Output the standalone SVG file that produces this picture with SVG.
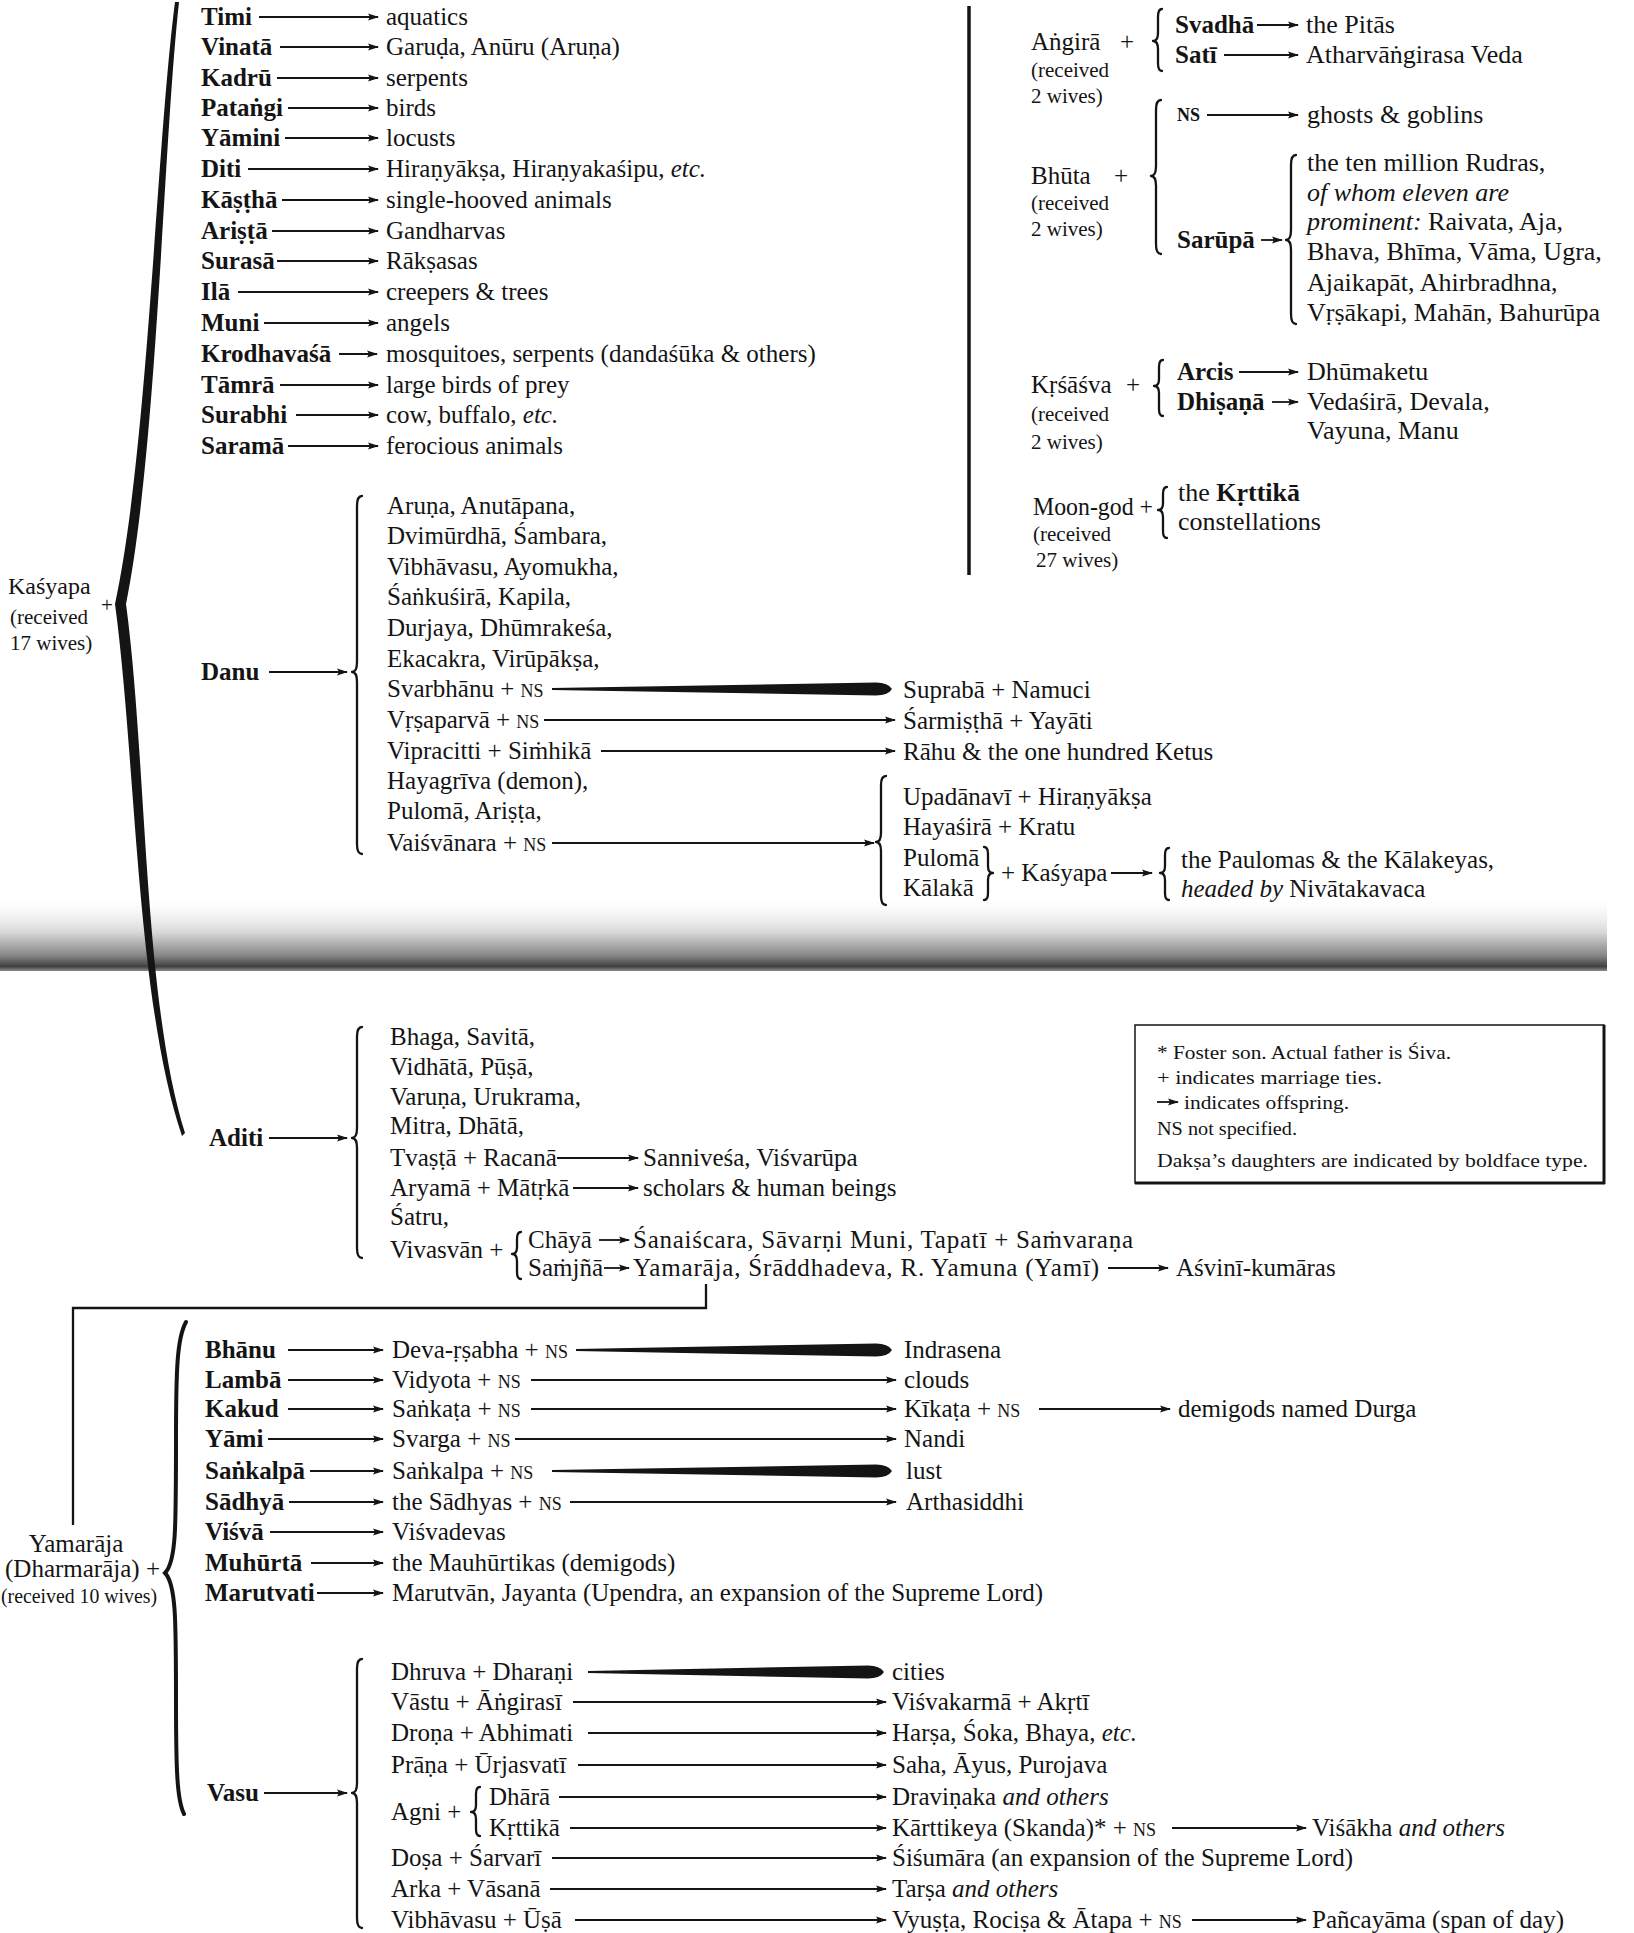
<svg xmlns="http://www.w3.org/2000/svg" width="1634" height="1933" viewBox="0 0 1634 1933">
<style>
.t{font-family:"Liberation Serif","DejaVu Serif",serif;font-size:25px;fill:#141414}
.b{font-weight:bold}
.i{font-style:italic}
.sm{font-size:21px}
.ns{font-size:18px}
.lg{font-size:19px}
.tr{font-size:26px}
.c{stroke:#141414;stroke-width:1.8;fill:none}
.a{marker-end:url(#ah)}
.br{stroke:#141414;stroke-width:2.3;fill:none;stroke-linecap:round;stroke-linejoin:round}
.tp{fill:#141414}
</style>
<defs>
<marker id="ah" markerUnits="userSpaceOnUse" markerWidth="11" markerHeight="8" refX="10" refY="4" orient="auto" viewBox="0 0 11 8"><path d="M0,0.5 L11,4 L0,7.5 L2,4 Z" fill="#141414"/></marker>
<linearGradient id="band" x1="0" y1="0" x2="0" y2="1">
<stop offset="0" stop-color="#ffffff" stop-opacity="0"/>
<stop offset="0.5" stop-color="#d6d6d6"/>
<stop offset="0.8" stop-color="#858585"/>
<stop offset="0.94" stop-color="#404040"/>
<stop offset="1" stop-color="#8a8a8a"/>
</linearGradient>
</defs>
<rect x="0" y="0" width="1634" height="1933" fill="#ffffff"/>
<rect id="fold-band" x="0" y="895" width="1607" height="76" fill="url(#band)"/>

<g id="connectors">
<path class="tp" d="M179,2 C163,150 157,450 126,604 C147,760 143,1000 185,1133 L182,1136 C136,1000 136,760 115,604 C148,450 156,150 175,2 Z"/>
<line class="c a" x1="259" y1="17" x2="378" y2="17"/>
<line class="c a" x1="280" y1="47" x2="378" y2="47"/>
<line class="c a" x1="277" y1="78" x2="378" y2="78"/>
<line class="c a" x1="288" y1="108" x2="378" y2="108"/>
<line class="c a" x1="285" y1="138" x2="378" y2="138"/>
<line class="c a" x1="248" y1="169" x2="378" y2="169"/>
<line class="c a" x1="282" y1="200" x2="378" y2="200"/>
<line class="c a" x1="272" y1="231" x2="378" y2="231"/>
<line class="c a" x1="277" y1="261" x2="378" y2="261"/>
<line class="c a" x1="238" y1="292" x2="378" y2="292"/>
<line class="c a" x1="264" y1="323" x2="378" y2="323"/>
<line class="c a" x1="339" y1="354" x2="377" y2="354"/>
<line class="c a" x1="280" y1="385" x2="378" y2="385"/>
<line class="c a" x1="296" y1="415" x2="378" y2="415"/>
<line class="c a" x1="288" y1="446" x2="378" y2="446"/>
<line x1="969" y1="6" x2="969" y2="575" stroke="#141414" stroke-width="3.5"/>
<path class="br" d="M1162,9 Q1158,9 1158,17 L1158,33 Q1158,41 1153,41 Q1158,41 1158,49 L1158,63 Q1158,71 1162,71"/>
<path class="br" d="M1161,100 Q1156,100 1156,110 L1156,166 Q1156,176 1151,176 Q1156,176 1156,186 L1156,244 Q1156,254 1161,254"/>
<path class="br" d="M1296,155 Q1291,155 1291,165 L1291,230 Q1291,240 1286,240 Q1291,240 1291,250 L1291,314 Q1291,324 1296,324"/>
<path class="br" d="M1163,360 Q1159,360 1159,367 L1159,379 Q1159,386 1154,386 Q1159,386 1159,393 L1159,409 Q1159,416 1163,416"/>
<path class="br" d="M1167,487 Q1163,487 1163,494 L1163,503 Q1163,510 1158,510 Q1163,510 1163,517 L1163,531 Q1163,538 1167,538"/>
<line class="c a" x1="1257" y1="25" x2="1298" y2="25"/>
<line class="c a" x1="1224" y1="55" x2="1298" y2="55"/>
<line class="c a" x1="1207" y1="115" x2="1298" y2="115"/>
<line class="c a" x1="1261" y1="240" x2="1282" y2="240"/>
<line class="c a" x1="1239" y1="372" x2="1298" y2="372"/>
<line class="c a" x1="1272" y1="402" x2="1298" y2="402"/>
<line class="c a" x1="269" y1="672" x2="347" y2="672"/>
<path class="br" d="M362,496 Q357,496 357,506 L357,662 Q357,672 352,672 Q357,672 357,682 L357,844 Q357,854 362,854"/>
<path class="tp" d="M552,688 L876,682.5 Q888,682.5 892,689 Q888,695.5 876,695.5 L552,690 Z"/>
<line class="c a" x1="544" y1="720" x2="895" y2="720"/>
<line class="c a" x1="601" y1="751" x2="895" y2="751"/>
<line class="c a" x1="552" y1="843" x2="874" y2="843"/>
<path class="br" d="M886,776 Q881,776 881,785 L881,833 Q881,842 876,842 Q881,842 881,851 L881,896 Q881,905 886,905"/>
<path class="br" d="M984,847 Q988,847 988,854 L988,866 Q988,873 993,873 Q988,873 988,880 L988,893 Q988,900 984,900"/>
<line class="c a" x1="1111" y1="873" x2="1152" y2="873"/>
<path class="br" d="M1169,848 Q1165,848 1165,855 L1165,866 Q1165,873 1160,873 Q1165,873 1165,880 L1165,893 Q1165,900 1169,900"/>
<line class="c a" x1="269" y1="1138" x2="347" y2="1138"/>
<path class="br" d="M362,1027 Q357,1027 357,1037 L357,1128 Q357,1138 352,1138 Q357,1138 357,1148 L357,1248 Q357,1258 362,1258"/>
<line class="c a" x1="557" y1="1158" x2="638" y2="1158"/>
<line class="c a" x1="573" y1="1188" x2="638" y2="1188"/>
<path class="br" d="M521,1232 Q517,1232 517,1239 L517,1247 Q517,1254 512,1254 Q517,1254 517,1261 L517,1272 Q517,1279 521,1279"/>
<line class="c a" x1="599" y1="1240" x2="629" y2="1240"/>
<line class="c a" x1="604" y1="1268" x2="629" y2="1268"/>
<line class="c a" x1="1108" y1="1268" x2="1168" y2="1268"/>
<polyline points="706,1284 706,1308 73,1308 73,1525" stroke="#141414" stroke-width="2.3" fill="none"/>
<path d="M186,1322 C177,1338 176,1370 176,1440 C176,1530 176,1562 165,1573 C176,1584 176,1620 176,1700 C176,1770 177,1800 184,1814" stroke="#141414" stroke-width="4" fill="none" stroke-linecap="round"/>
<line class="c a" x1="288" y1="1350" x2="383" y2="1350"/>
<line class="c a" x1="288" y1="1380" x2="383" y2="1380"/>
<line class="c a" x1="288" y1="1409" x2="383" y2="1409"/>
<line class="c a" x1="268" y1="1439" x2="383" y2="1439"/>
<line class="c a" x1="310" y1="1471" x2="383" y2="1471"/>
<line class="c a" x1="289" y1="1502" x2="383" y2="1502"/>
<line class="c a" x1="270" y1="1532" x2="383" y2="1532"/>
<line class="c a" x1="311" y1="1563" x2="383" y2="1563"/>
<line class="c a" x1="317" y1="1593" x2="383" y2="1593"/>
<path class="tp" d="M576,1349 L876,1343.5 Q888,1343.5 892,1350 Q888,1356.5 876,1356.5 L576,1351 Z"/>
<line class="c a" x1="531" y1="1380" x2="896" y2="1380"/>
<line class="c a" x1="531" y1="1409" x2="896" y2="1409"/>
<line class="c a" x1="1039" y1="1409" x2="1170" y2="1409"/>
<line class="c a" x1="515" y1="1439" x2="896" y2="1439"/>
<path class="tp" d="M552,1470 L876,1464.5 Q888,1464.5 892,1471 Q888,1477.5 876,1477.5 L552,1472 Z"/>
<line class="c a" x1="570" y1="1502" x2="896" y2="1502"/>
<line class="c a" x1="264" y1="1793" x2="347" y2="1793"/>
<path class="br" d="M362,1659 Q357,1659 357,1669 L357,1783 Q357,1793 352,1793 Q357,1793 357,1803 L357,1918 Q357,1928 362,1928"/>
<path class="tp" d="M588,1671 L868,1665.5 Q880,1665.5 884,1672 Q880,1678.5 868,1678.5 L588,1673 Z"/>
<line class="c a" x1="573" y1="1702" x2="886" y2="1702"/>
<line class="c a" x1="588" y1="1733" x2="886" y2="1733"/>
<line class="c a" x1="578" y1="1765" x2="886" y2="1765"/>
<path class="br" d="M480,1787 Q476,1787 476,1794 L476,1805 Q476,1812 471,1812 Q476,1812 476,1819 L476,1829 Q476,1836 480,1836"/>
<line class="c a" x1="559" y1="1797" x2="886" y2="1797"/>
<line class="c a" x1="570" y1="1828" x2="886" y2="1828"/>
<line class="c a" x1="1172" y1="1828" x2="1306" y2="1828"/>
<line class="c a" x1="552" y1="1858" x2="886" y2="1858"/>
<line class="c a" x1="550" y1="1889" x2="886" y2="1889"/>
<line class="c a" x1="575" y1="1920" x2="886" y2="1920"/>
<line class="c a" x1="1192" y1="1920" x2="1306" y2="1920"/>
</g>

<g id="n-kasyapa" class="t sm"><text x="8" y="594" font-size="24">Kaśyapa</text><text x="10" y="624">(received</text><text x="10" y="650">17 wives)</text><text x="101" y="612">+</text></g>
<g id="n-timi" class="t b"><text x="201" y="25">Timi</text></g>
<g id="n-vinata" class="t b"><text x="201" y="55">Vinatā</text></g>
<g id="n-kadru" class="t b"><text x="201" y="86">Kadrū</text></g>
<g id="n-patangi" class="t b"><text x="201" y="116">Pataṅgi</text></g>
<g id="n-yamini" class="t b"><text x="201" y="146">Yāmini</text></g>
<g id="n-diti" class="t b"><text x="201" y="177">Diti</text></g>
<g id="n-kastha" class="t b"><text x="201" y="208">Kāṣṭhā</text></g>
<g id="n-arista" class="t b"><text x="201" y="239">Ariṣṭā</text></g>
<g id="n-surasa" class="t b"><text x="201" y="269">Surasā</text></g>
<g id="n-ila" class="t b"><text x="201" y="300">Ilā</text></g>
<g id="n-muni" class="t b"><text x="201" y="331">Muni</text></g>
<g id="n-krodhavasa" class="t b"><text x="201" y="362">Krodhavaśā</text></g>
<g id="n-tamra" class="t b"><text x="201" y="393">Tāmrā</text></g>
<g id="n-surabhi" class="t b"><text x="201" y="423">Surabhi</text></g>
<g id="n-sarama" class="t b"><text x="201" y="454">Saramā</text></g>
<g id="r-aquatics" class="t"><text x="386" y="25">aquatics</text></g>
<g id="r-garuda" class="t"><text x="386" y="55">Garuḍa, Anūru (Aruṇa)</text></g>
<g id="r-serpents" class="t"><text x="386" y="86">serpents</text></g>
<g id="r-birds" class="t"><text x="386" y="116">birds</text></g>
<g id="r-locusts" class="t"><text x="386" y="146">locusts</text></g>
<g id="r-hiranyaksa" class="t"><text x="386" y="177">Hiraṇyākṣa, Hiraṇyakaśipu, <tspan class="i">etc.</tspan></text></g>
<g id="r-hooved" class="t"><text x="386" y="208">single-hooved animals</text></g>
<g id="r-gandharvas" class="t"><text x="386" y="239">Gandharvas</text></g>
<g id="r-raksasas" class="t"><text x="386" y="269">Rākṣasas</text></g>
<g id="r-creepers" class="t"><text x="386" y="300">creepers &amp; trees</text></g>
<g id="r-angels" class="t"><text x="386" y="331">angels</text></g>
<g id="r-mosquitoes" class="t"><text x="386" y="362">mosquitoes, serpents (dandaśūka &amp; others)</text></g>
<g id="r-prey" class="t"><text x="386" y="393">large birds of prey</text></g>
<g id="r-cow" class="t"><text x="386" y="423">cow, buffalo, <tspan class="i">etc.</tspan></text></g>
<g id="r-ferocious" class="t"><text x="386" y="454">ferocious animals</text></g>

<g id="n-angira" class="t"><text x="1031" y="50">Aṅgirā</text><text x="1120" y="50">+</text><text class="sm" x="1031" y="77">(received</text><text class="sm" x="1031" y="103">2 wives)</text></g>
<g id="n-svadha" class="t b"><text x="1175" y="33">Svadhā</text></g>
<g id="r-pitas" class="t tr"><text x="1306" y="33">the Pitās</text></g>
<g id="n-sati" class="t b"><text x="1175" y="63">Satī</text></g>
<g id="r-atharva" class="t tr"><text x="1306" y="63">Atharvāṅgirasa Veda</text></g>
<g id="n-bhuta" class="t"><text x="1031" y="184">Bhūta</text><text x="1114" y="184">+</text><text class="sm" x="1031" y="210">(received</text><text class="sm" x="1031" y="236">2 wives)</text></g>
<g id="n-ns-bhuta" class="t b"><text class="ns" x="1177" y="121">NS</text></g>
<g id="r-ghosts" class="t tr"><text x="1307" y="123">ghosts &amp; goblins</text></g>
<g id="n-sarupa" class="t b"><text x="1177" y="248">Sarūpā</text></g>
<g id="r-rudras" class="t tr"><text x="1307" y="171">the ten million Rudras,</text><text class="i" x="1307" y="201">of whom eleven are</text><text x="1307" y="230"><tspan class="i">prominent:</tspan> Raivata, Aja,</text><text x="1307" y="260">Bhava, Bhīma, Vāma, Ugra,</text><text x="1307" y="291">Ajaikapāt, Ahirbradhna,</text><text x="1307" y="321">Vṛṣākapi, Mahān, Bahurūpa</text></g>
<g id="n-krsasva" class="t"><text x="1031" y="393">Kṛśāśva</text><text x="1126" y="393">+</text><text class="sm" x="1031" y="421">(received</text><text class="sm" x="1031" y="449">2 wives)</text></g>
<g id="n-arcis" class="t b"><text x="1177" y="380">Arcis</text></g>
<g id="r-dhumaketu" class="t tr"><text x="1307" y="380">Dhūmaketu</text></g>
<g id="n-dhisana" class="t b"><text x="1177" y="410">Dhiṣaṇā</text></g>
<g id="r-vedasira" class="t tr"><text x="1307" y="410">Vedaśirā, Devala,</text><text x="1307" y="439">Vayuna, Manu</text></g>
<g id="n-moongod" class="t"><text x="1033" y="515" textLength="120" lengthAdjust="spacingAndGlyphs">Moon-god +</text><text class="sm" x="1033" y="541">(received</text><text class="sm" x="1036" y="567">27 wives)</text></g>
<g id="n-krttika-const" class="t tr"><text x="1178" y="501">the <tspan class="b">Kṛttikā</tspan></text><text x="1178" y="530">constellations</text></g>

<g id="n-danu" class="t b"><text x="201" y="680">Danu</text></g>
<g id="n-danu-sons" class="t"><text x="387" y="514">Aruṇa, Anutāpana,</text><text x="387" y="544">Dvimūrdhā, Śambara,</text><text x="387" y="575">Vibhāvasu, Ayomukha,</text><text x="387" y="605">Śaṅkuśirā, Kapila,</text><text x="387" y="636">Durjaya, Dhūmrakeśa,</text><text x="387" y="667">Ekacakra, Virūpākṣa,</text></g>
<g id="n-svarbhanu" class="t"><text x="387" y="697">Svarbhānu + <tspan class="ns">NS</tspan></text></g>
<g id="n-vrsaparva" class="t"><text x="387" y="728">Vṛṣaparvā + <tspan class="ns">NS</tspan></text></g>
<g id="n-vipracitti" class="t"><text x="387" y="759">Vipracitti + Siṁhikā</text></g>
<g id="n-danu-sons2" class="t"><text x="387" y="789">Hayagrīva (demon),</text><text x="387" y="819">Pulomā, Ariṣṭa,</text></g>
<g id="n-vaisvanara" class="t"><text x="387" y="851">Vaiśvānara + <tspan class="ns">NS</tspan></text></g>
<g id="r-suprabha" class="t"><text x="903" y="698">Suprabā + Namuci</text></g>
<g id="r-sarmistha" class="t"><text x="903" y="729">Śarmiṣṭhā + Yayāti</text></g>
<g id="r-rahu" class="t"><text x="903" y="760">Rāhu &amp; the one hundred Ketus</text></g>
<g id="r-upadanavi" class="t"><text x="903" y="805">Upadānavī + Hiraṇyākṣa</text></g>
<g id="r-hayasira" class="t"><text x="903" y="835">Hayaśirā + Kratu</text></g>
<g id="r-puloma-kalaka" class="t"><text x="903" y="866">Pulomā</text><text x="903" y="896">Kālakā</text></g>
<g id="n-plus-kasyapa" class="t"><text x="1001" y="881">+ Kaśyapa</text></g>
<g id="r-paulomas" class="t"><text x="1181" y="868">the Paulomas &amp; the Kālakeyas,</text><text x="1181" y="897"><tspan class="i">headed by</tspan> Nivātakavaca</text></g>

<g id="n-aditi" class="t b"><text x="209" y="1146">Aditi</text></g>
<g id="n-aditi-sons" class="t"><text x="390" y="1045">Bhaga, Savitā,</text><text x="390" y="1075">Vidhātā, Pūṣā,</text><text x="390" y="1105">Varuṇa, Urukrama,</text><text x="390" y="1134">Mitra, Dhātā,</text></g>
<g id="n-tvasta" class="t"><text x="390" y="1166">Tvaṣṭā + Racanā</text></g>
<g id="n-aryama" class="t"><text x="390" y="1196">Aryamā + Mātṛkā</text></g>
<g id="n-satru" class="t"><text x="390" y="1225">Śatru,</text></g>
<g id="n-vivasvan" class="t"><text x="390" y="1258">Vivasvān +</text></g>
<g id="n-chaya" class="t"><text x="528" y="1248">Chāyā</text></g>
<g id="n-samjna" class="t"><text x="528" y="1276">Saṁjñā</text></g>
<g id="r-sannivesa" class="t"><text x="643" y="1166">Sanniveśa, Viśvarūpa</text></g>
<g id="r-scholars" class="t"><text x="643" y="1196">scholars &amp; human beings</text></g>
<g id="r-sanaiscara" class="t"><text x="633" y="1248" textLength="500" lengthAdjust="spacing">Śanaiścara, Sāvarṇi Muni, Tapatī + Saṁvaraṇa</text></g>
<g id="r-yamaraja" class="t"><text x="633" y="1276" textLength="466" lengthAdjust="spacing">Yamarāja, Śrāddhadeva, R. Yamuna (Yamī)</text></g>
<g id="r-asvini" class="t"><text x="1176" y="1276">Aśvinī-kumāras</text></g>

<g id="legend">
<rect x="1135" y="1025" width="469" height="158" fill="#ffffff" stroke="#141414" stroke-width="1.5"/>
<line x1="1604" y1="1025" x2="1604" y2="1184" stroke="#141414" stroke-width="3"/>
<line x1="1135" y1="1183" x2="1605" y2="1183" stroke="#141414" stroke-width="3"/>
<g class="t lg">
<text x="1157" y="1059" textLength="294" lengthAdjust="spacingAndGlyphs">* Foster son. Actual father is Śiva.</text>
<text x="1157" y="1084" textLength="225" lengthAdjust="spacingAndGlyphs">+ indicates marriage ties.</text>
<line class="c a" x1="1157" y1="1102" x2="1178" y2="1102"/>
<text x="1184" y="1109" textLength="165" lengthAdjust="spacingAndGlyphs">indicates offspring.</text>
<text x="1157" y="1135" textLength="140" lengthAdjust="spacingAndGlyphs">NS not specified.</text>
<text x="1157" y="1167" textLength="431" lengthAdjust="spacingAndGlyphs">Dakṣa’s daughters are indicated by boldface type.</text>
</g>
</g>

<g id="n-yamaraja" class="t"><text x="76" y="1552" text-anchor="middle">Yamarāja</text><text x="5" y="1577">(Dharmarāja) +</text><text class="sm" x="1" y="1603" textLength="156" lengthAdjust="spacingAndGlyphs">(received 10 wives)</text></g>
<g id="n-bhanu" class="t b"><text x="205" y="1358">Bhānu</text></g>
<g id="n-lamba" class="t b"><text x="205" y="1388">Lambā</text></g>
<g id="n-kakud" class="t b"><text x="205" y="1417">Kakud</text></g>
<g id="n-yami" class="t b"><text x="205" y="1447">Yāmi</text></g>
<g id="n-sankalpa" class="t b"><text x="205" y="1479">Saṅkalpā</text></g>
<g id="n-sadhya" class="t b"><text x="205" y="1510">Sādhyā</text></g>
<g id="n-visva" class="t b"><text x="205" y="1540">Viśvā</text></g>
<g id="n-muhurta" class="t b"><text x="205" y="1571">Muhūrtā</text></g>
<g id="n-marutvati" class="t b"><text x="205" y="1601">Marutvati</text></g>
<g id="n-devarsabha" class="t"><text x="392" y="1358">Deva-ṛṣabha + <tspan class="ns">NS</tspan></text></g>
<g id="n-vidyota" class="t"><text x="392" y="1388">Vidyota + <tspan class="ns">NS</tspan></text></g>
<g id="n-sankata" class="t"><text x="392" y="1417">Saṅkaṭa + <tspan class="ns">NS</tspan></text></g>
<g id="n-svarga" class="t"><text x="392" y="1447">Svarga + <tspan class="ns">NS</tspan></text></g>
<g id="n-sankalpa2" class="t"><text x="392" y="1479">Saṅkalpa + <tspan class="ns">NS</tspan></text></g>
<g id="n-sadhyas" class="t"><text x="392" y="1510">the Sādhyas + <tspan class="ns">NS</tspan></text></g>
<g id="r-visvadevas" class="t"><text x="392" y="1540">Viśvadevas</text></g>
<g id="r-mauhurtikas" class="t"><text x="392" y="1571">the Mauhūrtikas (demigods)</text></g>
<g id="r-marutvan" class="t"><text x="392" y="1601">Marutvān, Jayanta (Upendra, an expansion of the Supreme Lord)</text></g>
<g id="r-indrasena" class="t"><text x="904" y="1358">Indrasena</text></g>
<g id="r-clouds" class="t"><text x="904" y="1388">clouds</text></g>
<g id="n-kikata" class="t"><text x="904" y="1417">Kīkaṭa + <tspan class="ns">NS</tspan></text></g>
<g id="r-durga" class="t"><text x="1178" y="1417">demigods named Durga</text></g>
<g id="r-nandi" class="t"><text x="904" y="1447">Nandi</text></g>
<g id="r-lust" class="t"><text x="906" y="1479">lust</text></g>
<g id="r-arthasiddhi" class="t"><text x="906" y="1510">Arthasiddhi</text></g>

<g id="n-vasu" class="t b"><text x="207" y="1801">Vasu</text></g>
<g id="n-dhruva" class="t"><text x="391" y="1680">Dhruva + Dharaṇi</text></g>
<g id="n-vastu" class="t"><text x="391" y="1710">Vāstu + Āṅgirasī</text></g>
<g id="n-drona" class="t"><text x="391" y="1741">Droṇa + Abhimati</text></g>
<g id="n-prana" class="t"><text x="391" y="1773">Prāṇa + Ūrjasvatī</text></g>
<g id="n-agni" class="t"><text x="391" y="1820">Agni +</text></g>
<g id="n-dhara" class="t"><text x="489" y="1805">Dhārā</text></g>
<g id="n-krttika" class="t"><text x="489" y="1836">Kṛttikā</text></g>
<g id="n-dosa" class="t"><text x="391" y="1866">Doṣa + Śarvarī</text></g>
<g id="n-arka" class="t"><text x="391" y="1897">Arka + Vāsanā</text></g>
<g id="n-vibhavasu" class="t"><text x="391" y="1928">Vibhāvasu + Ūṣā</text></g>
<g id="r-cities" class="t"><text x="892" y="1680">cities</text></g>
<g id="r-visvakarma" class="t"><text x="892" y="1710">Viśvakarmā + Akṛtī</text></g>
<g id="r-harsa" class="t"><text x="892" y="1741">Harṣa, Śoka, Bhaya, <tspan class="i">etc.</tspan></text></g>
<g id="r-saha" class="t"><text x="892" y="1773">Saha, Āyus, Purojava</text></g>
<g id="r-dravinaka" class="t"><text x="892" y="1805">Draviṇaka <tspan class="i">and others</tspan></text></g>
<g id="n-karttikeya" class="t"><text x="892" y="1836">Kārttikeya (Skanda)* + <tspan class="ns">NS</tspan></text></g>
<g id="r-visakha" class="t"><text x="1312" y="1836">Viśākha <tspan class="i">and others</tspan></text></g>
<g id="r-sisumara" class="t"><text x="892" y="1866">Śiśumāra (an expansion of the Supreme Lord)</text></g>
<g id="r-tarsa" class="t"><text x="892" y="1897">Tarṣa <tspan class="i">and others</tspan></text></g>
<g id="n-vyusta" class="t"><text x="892" y="1928">Vyuṣṭa, Rociṣa &amp; Ātapa + <tspan class="ns">NS</tspan></text></g>
<g id="r-pancayama" class="t"><text x="1312" y="1928">Pañcayāma (span of day)</text></g>
</svg>
